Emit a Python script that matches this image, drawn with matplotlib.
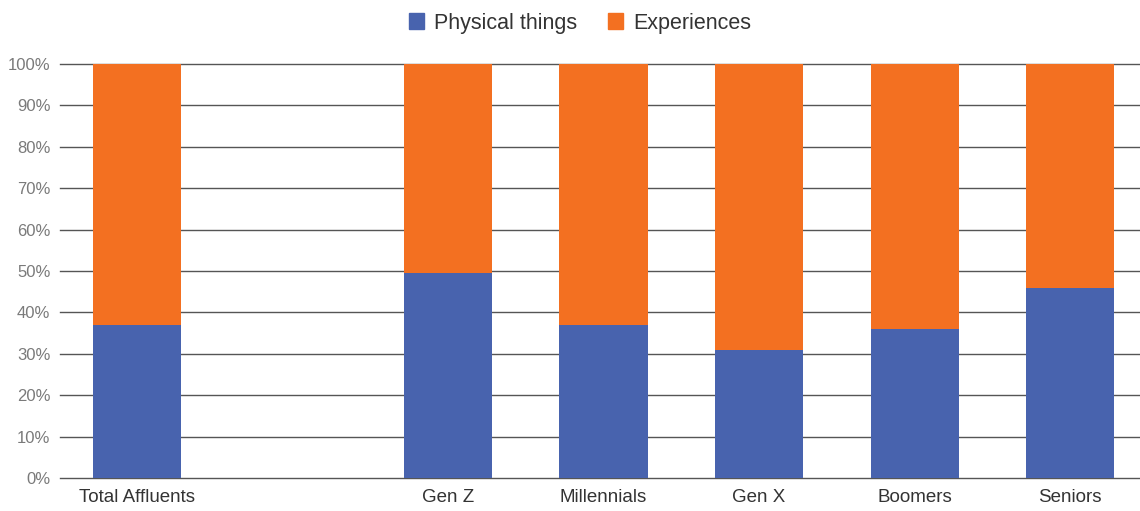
import numpy as np
import matplotlib.pyplot as plt
from matplotlib.patches import Patch
from matplotlib.ticker import PercentFormatter

plt.rcParams['font.family'] = ['Liberation Sans', 'DejaVu Sans']

# categories (blank slot keeps the gap after the total column)
categories = ['Total Affluents', '', 'Gen Z', 'Millennials', 'Gen X', 'Boomers', 'Seniors']
physical = [37, np.nan, 49.5, 37, 31, 36, 46]
experiences = [63, np.nan, 50.5, 63, 69, 64, 54]

blue = '#4863ae'
orange = '#f37021'

fig = plt.figure(figsize=(11.4, 5.11), dpi=100)
ax = fig.add_axes([60 / 1140, 1 - 478 / 511, 1 - 60 / 1140, (478 - 64) / 511])

x = np.arange(len(categories))
phys = np.array(physical, dtype=float)
exp_ = np.array(experiences, dtype=float)
width = 0.566
ax.bar(x, phys, width, color=blue, zorder=2)
ax.bar(x, exp_, width, bottom=phys, color=orange, zorder=2)

ax.set_xlim(-0.495, 6.45)
ax.set_ylim(0, 100)
ax.set_yticks(np.arange(0, 101, 10))
ax.yaxis.set_major_formatter(PercentFormatter(decimals=0))
ax.grid(axis='y', color='#555555', linewidth=1.0, zorder=0)
for gl in ax.get_ygridlines():
    gl.set_clip_on(False)
ax.set_xticks(x)
ax.set_xticklabels(categories)

for s in ax.spines.values():
    s.set_visible(False)
ax.tick_params(axis='y', length=0, pad=7, labelsize=12, labelcolor='#7a7a7a')
ax.tick_params(axis='x', length=0, pad=8, labelsize=13.5, labelcolor='#333333')

handles = [Patch(color=blue, label='Physical things'),
           Patch(color=orange, label='Experiences')]
fig.legend(handles=handles, loc='center', bbox_to_anchor=(580 / 1140, 1 - 23 / 511),
           ncol=2, frameon=False, fontsize=15.5, handlelength=0.7, handleheight=0.7,
           handletextpad=0.5, columnspacing=1.4, labelcolor='#333333')

fig.savefig('out.png', dpi=100)
